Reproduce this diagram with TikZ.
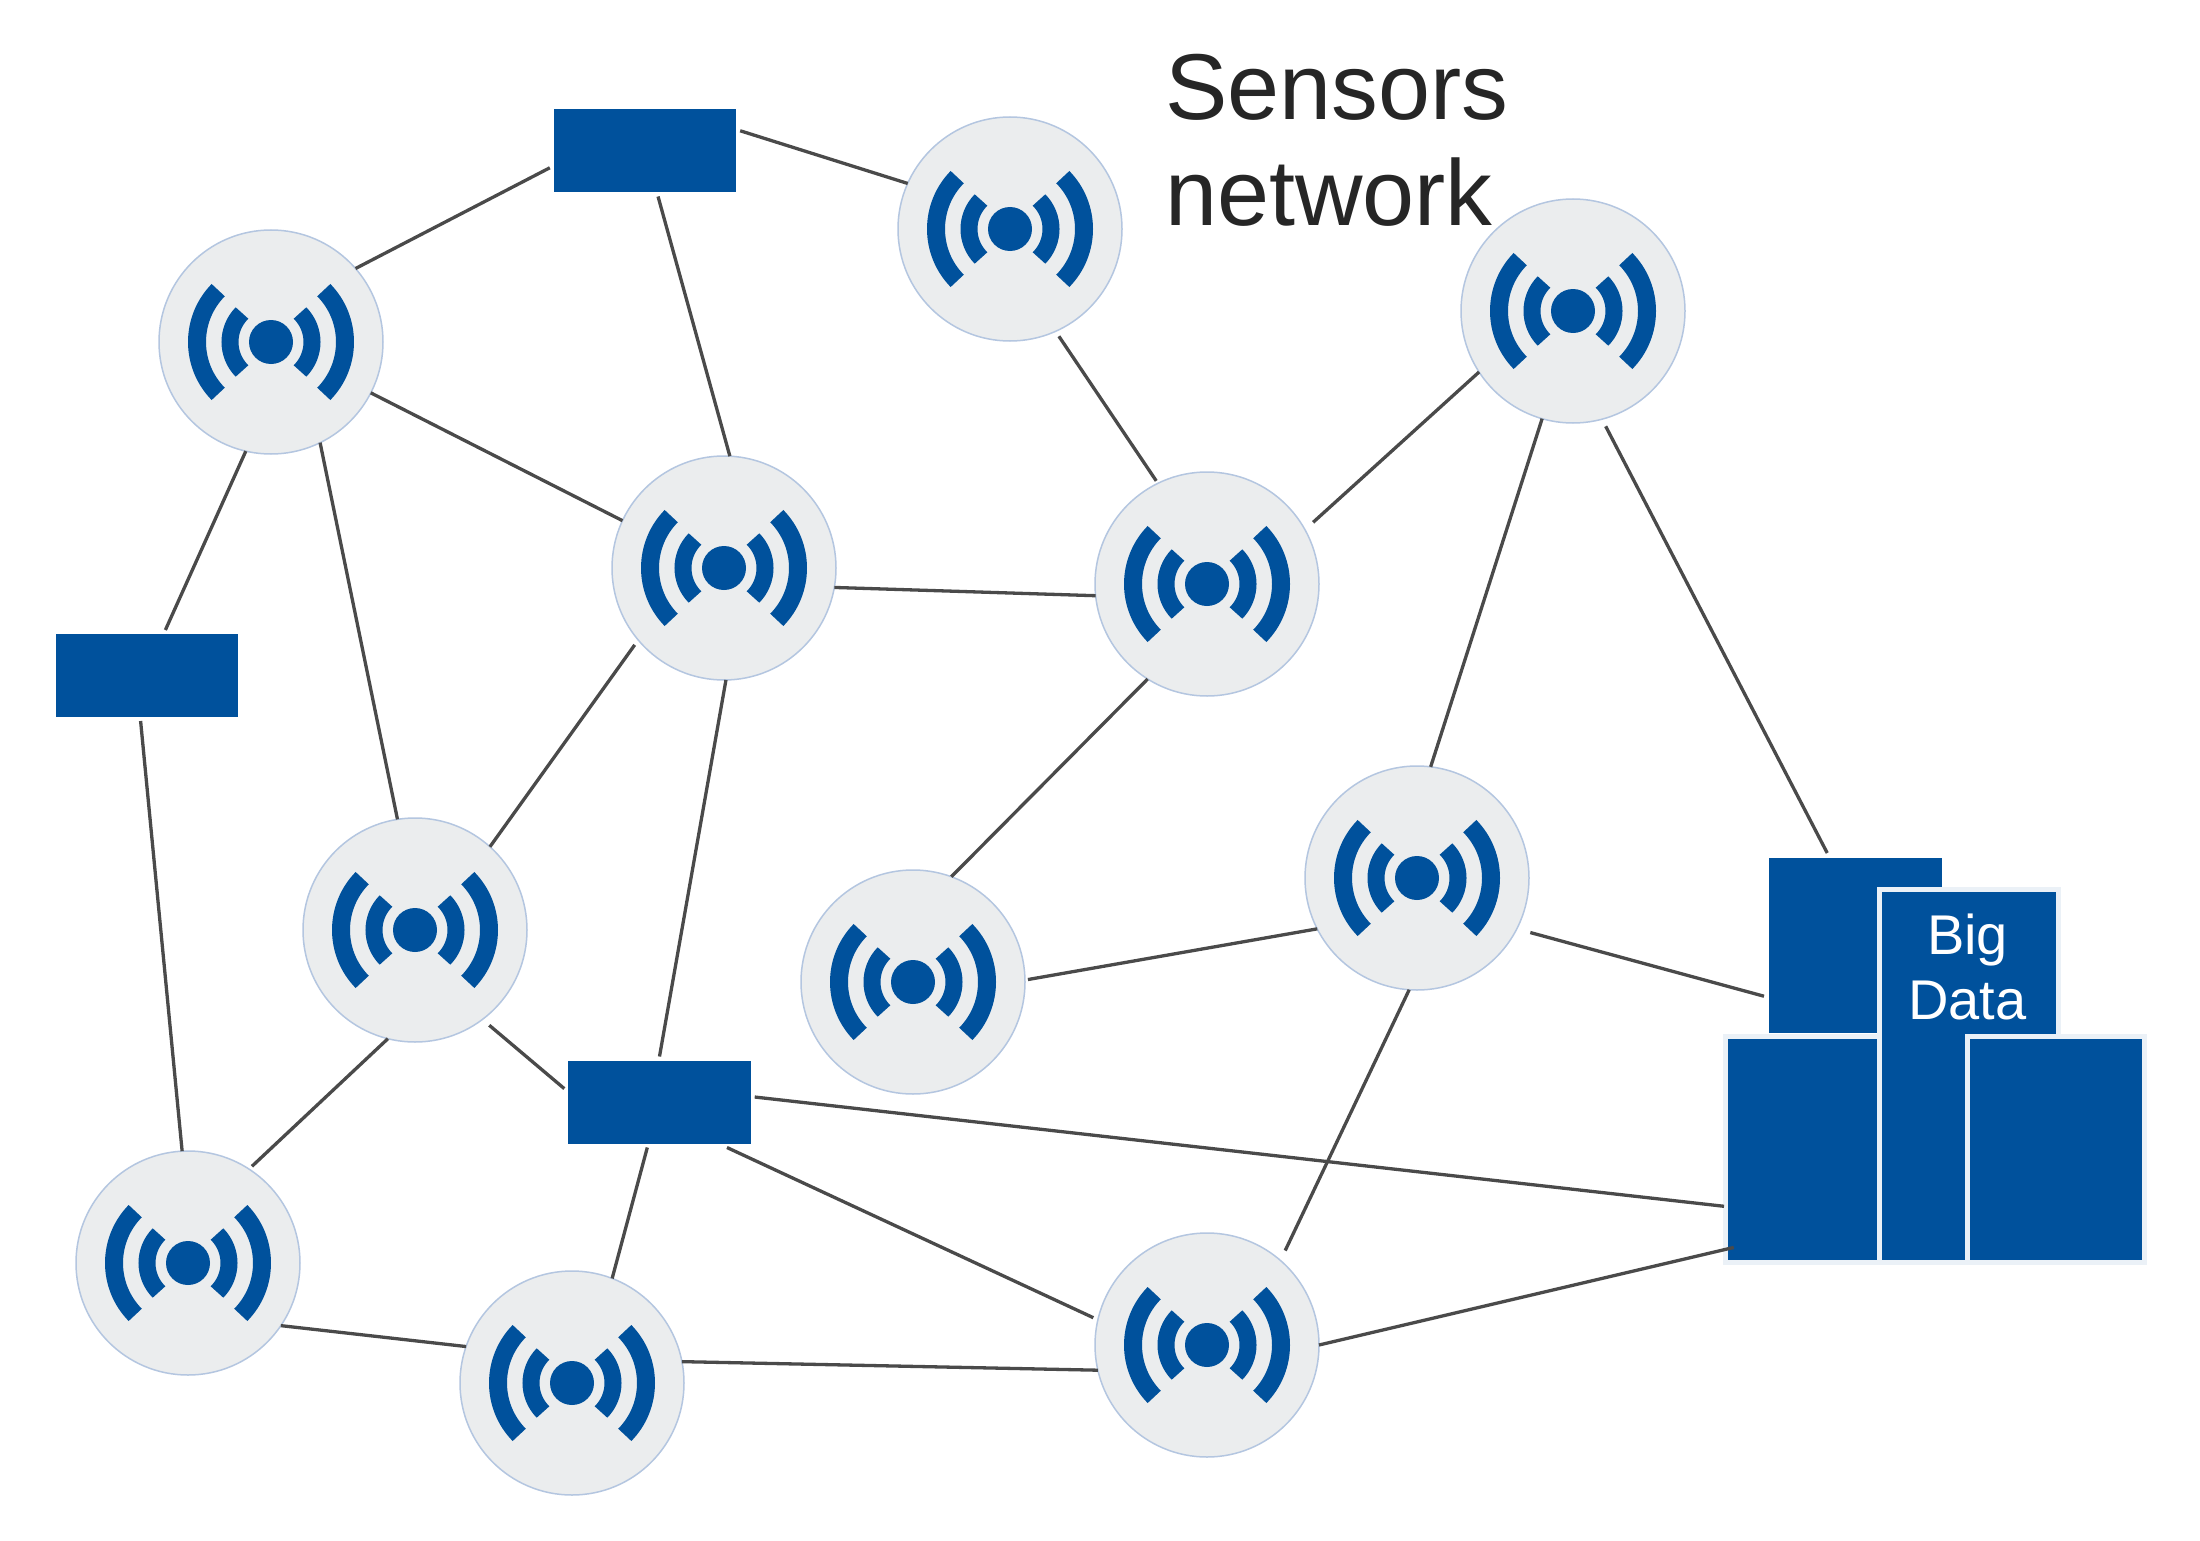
\documentclass[tikz,border=0pt]{standalone}
\usepackage{fontspec}
\setmainfont{Liberation Sans}
\definecolor{blk}{HTML}{00519C}
\definecolor{disc}{HTML}{EBEDEE}
\definecolor{rim}{HTML}{B4C6E0}
\definecolor{wire}{HTML}{4A4A4A}
\definecolor{ink}{HTML}{262626}
\tikzset{
  x=1pt,y=1pt,
  sensorbox/.style={circle,fill=disc,draw=rim,line width=1.5pt,minimum size=224pt,inner sep=0pt,outer sep=0pt},
  tag/.style={rectangle,fill=blk,minimum width=182.4pt,minimum height=83pt,inner sep=0pt,outer sep=4pt},
  storeback/.style={rectangle,fill=blk,inner sep=0pt,outer sep=5pt},
  store/.style={rectangle,fill=blk,draw=white!92!blk,line width=5pt,inner sep=0pt,outer sep=1.5pt},
  wave/.style={draw=blk,line cap=butt},
  link/.style={draw=wire,line width=3.3pt},
}
\newcommand\sensor[3]{%
  \node[sensorbox] (#1) at (#2,-#3) {};
  \fill[blk] (#1.center) circle[radius=22pt];
  \draw[wave,line width=17pt] ([shift={(135:41pt)}]#1.center) arc[start angle=135,end angle=225,radius=41pt];
  \draw[wave,line width=17pt] ([shift={(45:41pt)}]#1.center) arc[start angle=45,end angle=-45,radius=41pt];
  \draw[wave,line width=18pt] ([shift={(135.5:74pt)}]#1.center) arc[start angle=135.5,end angle=224.5,radius=74pt];
  \draw[wave,line width=18pt] ([shift={(44.5:74pt)}]#1.center) arc[start angle=44.5,end angle=-44.5,radius=74pt];
}
\newcommand\conn[5][]{\draw[link,#1] (#2.#3) -- (#4.#5);}
\begin{document}
\begin{tikzpicture}
\useasboundingbox (0,-1541) rectangle (2200,0);
\fill[white] (0,-1541) rectangle (2200,0);
\sensor{A}{271}{342}
\sensor{B}{1010}{229}
\sensor{C}{1573}{311}
\sensor{D}{724}{568}
\sensor{E}{1207}{584}
\sensor{F}{415}{930}
\sensor{G}{913}{982}
\sensor{H}{1417}{878}
\sensor{I}{188}{1263}
\sensor{J}{572}{1383}
\sensor{K}{1207}{1345}
\node[tag] (R1) at (645,-151) {};
\node[tag] (R2) at (147,-675.5) {};
\node[tag] (R3) at (659.5,-1102) {};
\node[storeback,minimum width=173pt,minimum height=175pt] (back) at (1855.5,-945.5) {};
\node[store,minimum width=154pt,minimum height=226.5pt] (left) at (1802.5,-1149.25) {};
\node[store,minimum width=179pt,minimum height=373pt] (mid) at (1969,-1076) {};
\node[store,minimum width=177pt,minimum height=226pt] (right) at (2056,-1149.5) {};
\node[text=white,align=center,inner sep=0pt,font=\fontsize{56}{65}\selectfont] (bigdata) at (1967.5,-967) {Big\\Data};
\node[text=ink,align=left,anchor=north west,inner sep=0pt,font=\fontsize{93.5}{106}\selectfont] (title) at (1165,-54) {Sensors\\network};
\conn{A}{41}{R1}{190}
\conn{R1}{12.7}{B}{156.6}
\conn{R1}{-74.4}{D}{87}
\conn{A}{-27.8}{D}{155}
\conn{A}{257.7}{R2}{68.7}
\conn{A}{-64.7}{F}{99}
\conn{R2}{262}{I}{93}
\conn{D}{-10}{E}{186}
\conn[shorten <=6pt]{D}{220.7}{F}{48.5}
\conn{D}{-89}{R3}{90}
\conn[shorten <=6pt,shorten >=3pt]{B}{-66}{E}{116}
\conn[shorten <=11pt]{E}{29.3}{C}{213}
\conn{E}{238.7}{G}{70.9}
\conn{C}{254.3}{H}{83.5}
\conn[shorten <=8pt]{C}{-75}{back}{107}
\conn[shorten <=3pt]{G}{1.4}{H}{207.6}
\conn[shorten <=14pt]{H}{-27.7}{back}{209.6}
\conn[shorten >=11pt]{H}{266.8}{K}{49.3}
\conn[shorten >=4pt]{F}{256}{I}{57.8}
\conn[shorten <=9pt]{F}{-53}{R3}{172}
\conn{R3}{255}{J}{69}
\conn[shorten >=5pt]{R3}{-34.6}{K}{167.6}
\conn{R3}{3}{left}{216}
\conn{I}{-34}{J}{161.8}
\conn{J}{11.3}{K}{193.7}
\conn[shorten >=-10pt]{K}{0}{left}{232.9}
\end{tikzpicture}
\end{document}
